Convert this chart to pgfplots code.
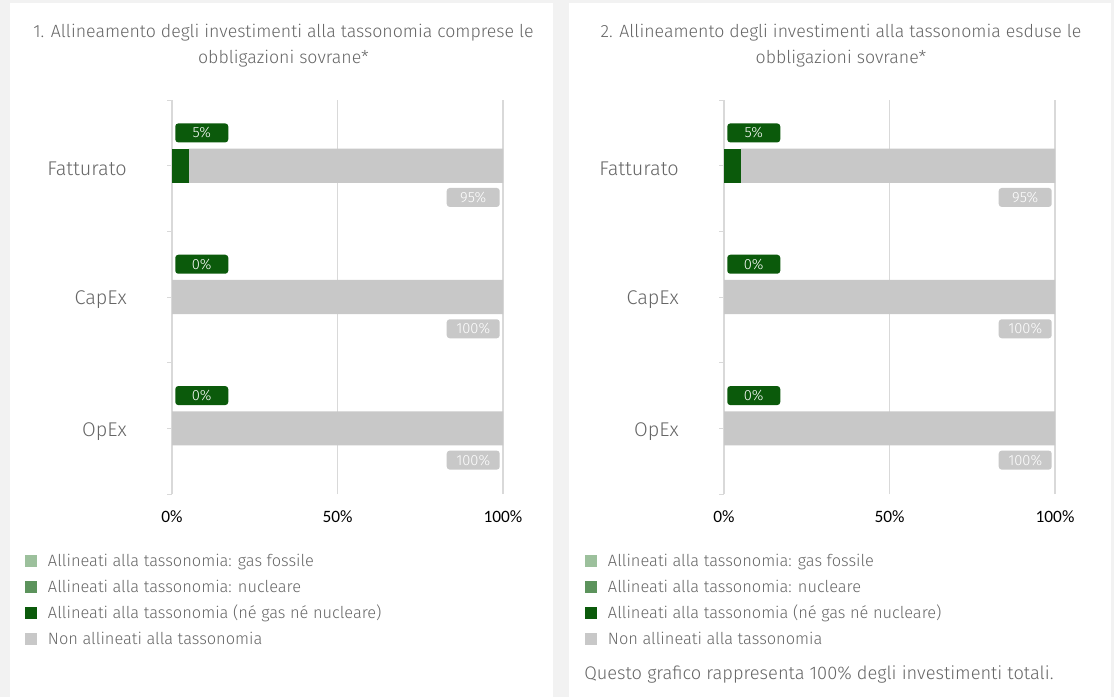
\documentclass[border=0pt]{standalone}
\usepackage{pgfplots}
\usepackage{pgfplotstable}
\pgfplotsset{compat=1.18}
\usepackage{fontspec}
\setmainfont{Fira Sans Light}
\newfontfamily\tickfont{Carlito}
\definecolor{pagebg}{HTML}{F2F2F2}
\definecolor{dkgreen}{HTML}{0B5A0B}
\definecolor{midgreen}{HTML}{5C935C}
\definecolor{ltgreen}{HTML}{9CC09C}
\definecolor{barGrey}{HTML}{C8C8C8}
\definecolor{txtgrey}{HTML}{666666}
\definecolor{gridgrey}{HTML}{D9D9D9}

\pgfplotstableread{
cat gas nuc aligned notaligned
2.5 0 0 5 95
1.5 0 0 0 100
0.5 0 0 0 100
}\dataA
\pgfplotstableread{
cat gas nuc aligned notaligned
2.5 0 0 5 95
1.5 0 0 0 100
0.5 0 0 0 100
}\dataB

\tikzset{
  lbl/.style={rounded corners=2.25pt, inner sep=0pt, minimum width=39.75pt, minimum height=14.25pt,
    text=white, font=\fontsize{11}{11}\selectfont},
}
\pgfplotsset{
  panel/.style={
    xbar stacked,
    scale only axis,
    width=248.25pt, height=295.5pt,
    xmin=0, xmax=100, ymin=0, ymax=3,
    bar width=0.26,
    axis line style={draw=none},
    xtick={0,50,100},
    xticklabels={0\%,50\%,100\%},
    xticklabel style={font=\tickfont\fontsize{13}{13}\selectfont, text=black, inner sep=0pt, yshift=-8.6pt},
    xtick style={draw=none},
    xmajorgrids,
    major grid style={gridgrey, line width=1.1pt},
    ytick={0.5,1.5,2.5},
    yticklabels={OpEx,CapEx,Fatturato},
    minor ytick={0,1,2,3},
    ytick pos=left,
    tick align=outside,
    major tick length=3.75pt,
    minor tick length=3.75pt,
    every tick/.style={gridgrey, line width=0.75pt},
    yticklabel style={font=\fontsize{14.9}{14.9}\selectfont, text=txtgrey, inner sep=0pt, xshift=-30pt, yshift=-2.25pt},
    legend style={anchor=north west, draw=none, fill=none, inner sep=0pt, outer sep=0pt,
      font=\fontsize{12.3}{12.3}\selectfont, text=txtgrey, row sep=7.7pt, column sep=8.25pt,
      cells={anchor=base west},
      nodes={inner sep=0pt, text height=8.8pt, text depth=3pt}},
    legend image code/.code={\fill[##1] (0pt,-0.3pt) rectangle (9pt,8.7pt);},
    every axis plot/.append style={draw=none},
  },
}

\begin{document}
\begin{tikzpicture}
\fill[pagebg] (0pt,0pt) rectangle (835.5pt,-522.75pt);
\fill[white] (7.5pt,-2.25pt) rectangle (414.75pt,-522.75pt);
\fill[white] (426.75pt,-2.25pt) rectangle (833.25pt,-522.75pt);

% left panel
\begin{axis}[panel, at={(129pt,-370.5pt)}, anchor=south west,
  legend style={at={(-0.4441,-0.154)}}]
  \addplot[fill=ltgreen] table[x=gas, y=cat]{\dataA};
  \addlegendentry{Allineati alla tassonomia: gas fossile}
  \addplot[fill=midgreen] table[x=nuc, y=cat]{\dataA};
  \addlegendentry{Allineati alla tassonomia: nucleare}
  \addplot[fill=dkgreen] table[x=aligned, y=cat]{\dataA};
  \addlegendentry{Allineati alla tassonomia (né gas né nucleare)}
  \addplot[fill=barGrey] table[x=notaligned, y=cat]{\dataA};
  \addlegendentry{Non allineati alla tassonomia}
  \node[lbl, fill=dkgreen, anchor=south west, xshift=2.25pt, yshift=17.25pt] at (axis cs:0,2.5) {5\%};
  \node[lbl, fill=dkgreen, anchor=south west, xshift=2.25pt, yshift=17.25pt] at (axis cs:0,1.5) {0\%};
  \node[lbl, fill=dkgreen, anchor=south west, xshift=2.25pt, yshift=17.25pt] at (axis cs:0,0.5) {0\%};
  \node[lbl, fill=barGrey, anchor=north east, xshift=-2.25pt, yshift=-16.5pt] at (axis cs:100,2.5) {95\%};
  \node[lbl, fill=barGrey, anchor=north east, xshift=-2.25pt, yshift=-16.5pt] at (axis cs:100,1.5) {100\%};
  \node[lbl, fill=barGrey, anchor=north east, xshift=-2.25pt, yshift=-16.5pt] at (axis cs:100,0.5) {100\%};
\end{axis}

% right panel
\begin{axis}[panel, at={(543pt,-370.5pt)}, anchor=south west,
  legend style={at={(-0.42,-0.154)}}]
  \addplot[fill=ltgreen] table[x=gas, y=cat]{\dataB};
  \addlegendentry{Allineati alla tassonomia: gas fossile}
  \addplot[fill=midgreen] table[x=nuc, y=cat]{\dataB};
  \addlegendentry{Allineati alla tassonomia: nucleare}
  \addplot[fill=dkgreen] table[x=aligned, y=cat]{\dataB};
  \addlegendentry{Allineati alla tassonomia (né gas né nucleare)}
  \addplot[fill=barGrey] table[x=notaligned, y=cat]{\dataB};
  \addlegendentry{Non allineati alla tassonomia}
  \node[lbl, fill=dkgreen, anchor=south west, xshift=2.25pt, yshift=17.25pt] at (axis cs:0,2.5) {5\%};
  \node[lbl, fill=dkgreen, anchor=south west, xshift=2.25pt, yshift=17.25pt] at (axis cs:0,1.5) {0\%};
  \node[lbl, fill=dkgreen, anchor=south west, xshift=2.25pt, yshift=17.25pt] at (axis cs:0,0.5) {0\%};
  \node[lbl, fill=barGrey, anchor=north east, xshift=-2.25pt, yshift=-16.5pt] at (axis cs:100,2.5) {95\%};
  \node[lbl, fill=barGrey, anchor=north east, xshift=-2.25pt, yshift=-16.5pt] at (axis cs:100,1.5) {100\%};
  \node[lbl, fill=barGrey, anchor=north east, xshift=-2.25pt, yshift=-16.5pt] at (axis cs:100,0.5) {100\%};
\end{axis}

\node[align=center, text=txtgrey, font=\fontsize{13.3}{19.5}\selectfont, inner sep=0pt]
  at (212.6pt,-34.6pt) {1. Allineamento degli investimenti alla tassonomia comprese le\\obbligazioni sovrane*};
\node[align=center, text=txtgrey, font=\fontsize{13.3}{19.5}\selectfont, inner sep=0pt]
  at (630.75pt,-34.6pt) {2. Allineamento degli investimenti alla tassonomia esduse le\\obbligazioni sovrane*};
\node[anchor=west, text=txtgrey, font=\fontsize{13.7}{13.7}\selectfont, inner sep=0pt]
  at (438pt,-505.5pt) {Questo grafico rappresenta 100\% degli investimenti totali.};

\pgfresetboundingbox
\path (0pt,0pt) rectangle (835.5pt,-522.75pt);
\end{tikzpicture}
\end{document}
